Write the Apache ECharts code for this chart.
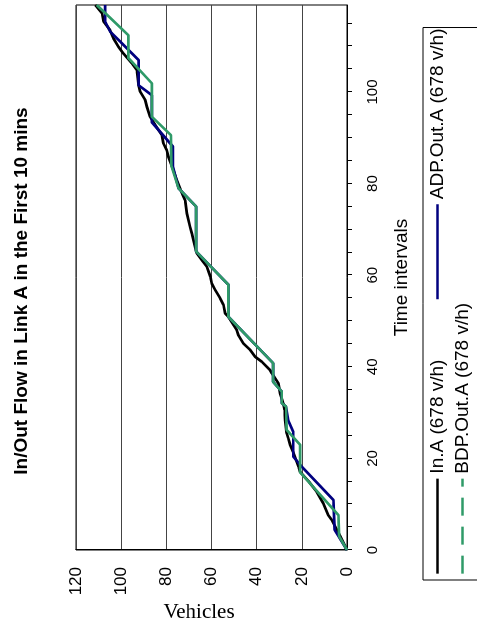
<!DOCTYPE html>
<html>
<head>
<meta charset="utf-8">
<title>In/Out Flow in Link A in the First 10 mins</title>
<script src="https://cdn.jsdelivr.net/npm/echarts@6/dist/echarts.min.js"></script>
<style>
  html, body { margin: 0; padding: 0; background: #fff; overflow: hidden; width: 477px; height: 629px; }
  /* The chart is laid out landscape and turned a quarter turn counter-clockwise onto the portrait page. */
  #chart {
    position: absolute; left: 0; top: 0;
    width: 629px; height: 477px;
    transform-origin: 0 0;
    transform: translate(0, 629px) rotate(-90deg);
  }
</style>
</head>
<body>
<div id="chart"></div>
<script>
// Cumulative vehicle counts against time interval (breakpoints of each curve)
const inTime = [0, 3, 6.6, 7.6, 10.2, 12.7, 15, 17.1, 18.2, 21.2, 23, 24.4, 25.5, 28.4, 30.6, 32, 34.2, 36.4, 38.6, 39.3, 41.1, 42.2, 43.7, 45.1, 46.9, 48, 50.9, 51.7, 53.5, 55, 56.8, 58.2, 59.7, 61.9, 63.3, 64.8, 66.2, 69.1, 70.6, 73.5, 76.4, 77.9, 80.8, 83, 85.9, 87.3, 88.8, 90.6, 92.5, 94.6, 96.8, 98.3, 100.1, 101.5, 104.8, 106.3, 108.4, 109.9, 111.7, 113.5, 115.4, 117.2, 119];
const inVeh  = [0, 3, 6.8, 8.3, 10.5, 13.4, 17, 20.8, 21.5, 23.7, 25.2, 26, 26.7, 27.4, 27.6, 28.2, 29.6, 30.4, 33.3, 34.1, 37.7, 40.7, 42.9, 45.9, 48.1, 48.8, 52.5, 54, 54.7, 56.2, 58.4, 59.9, 60.5, 62.1, 64.3, 66.5, 67.3, 68.7, 69.5, 70.9, 71.7, 73.1, 75.4, 76.9, 79.1, 79.8, 81.3, 82, 84.5, 87.2, 88.6, 89.4, 91.6, 92.3, 93.1, 95.3, 99, 101.2, 103.4, 104.9, 107.8, 108.5, 111.5];

const adpTime = [0, 4.4, 10.9, 18.2, 20.4, 25.8, 28.4, 31.3, 32.1, 34.6, 36.7, 40.8, 50.9, 57.9, 65.2, 75, 79, 83.7, 88.1, 93.4, 99.3, 101.5, 107, 111, 113.2, 115.4, 119];
const adpVeh  = [0, 5.5, 6, 20, 23.8, 23.8, 26.1, 27, 28.9, 28.9, 32.7, 32.7, 52.5, 52.5, 66.8, 66.8, 74.6, 77.1, 77.1, 86.4, 86.4, 92.3, 92.3, 100.4, 104.9, 107.1, 107.1];

const bdpTime = [0, 3, 7.6, 17, 23, 26.2, 31.3, 32.1, 34.6, 36.7, 40.8, 50.9, 57.9, 65.2, 75, 79, 84, 90.6, 94.6, 101.9, 107.4, 112.4, 119];
const bdpVeh  = [0, 3.5, 3.8, 20.8, 20.8, 26.7, 27, 28.9, 28.9, 32.7, 32.7, 52.5, 52.5, 66.8, 66.8, 74.6, 77.8, 78, 86.4, 86.4, 96.8, 96.8, 110.8];

const seriesNames = ['In.A (678 v/h)', 'ADP.Out.A (678 v/h)', 'BDP.Out.A (678 v/h)'];
const titleText = 'In/Out Flow in Link A in the First 10 mins';
const timeAxisName = 'Time intervals';
const vehAxisName = 'Vehicles';

const sans = "'Liberation Sans', Arial, sans-serif";
const serif = "'Liberation Serif', 'Times New Roman', serif";

function pairs(xs, ys) { return xs.map((x, i) => [x, ys[i]]); }

const legendCommon = {
  orient: 'horizontal',
  itemWidth: 95, itemHeight: 14,
  itemStyle: { opacity: 0 },
  lineStyle: { width: 2.7 },
  textStyle: { fontFamily: sans, fontSize: 19, color: '#000' }
};

const chart = echarts.init(document.getElementById('chart'), null, { renderer: 'canvas' });

chart.setOption({
  backgroundColor: '#ffffff',
  animation: false,
  title: {
    text: titleText,
    left: 333, top: 7, textAlign: 'center',
    textStyle: { fontFamily: sans, fontWeight: 'bold', fontSize: 19, color: '#000' }
  },
  legend: [
    Object.assign({}, legendCommon, {
      left: 49, top: 423,
      padding: [5, 1, 44, 5],
      borderColor: '#000', borderWidth: 1, borderRadius: 0,
      itemGap: 59,
      data: [seriesNames[0], seriesNames[1]]
    }),
    Object.assign({}, legendCommon, {
      left: 54, top: 453, padding: 0, itemGap: 10,
      data: [{ name: seriesNames[2], lineStyle: { type: [18, 11], width: 2.7 } }]
    })
  ],
  grid: {
    left: 79, right: 5, top: 76, bottom: 130,
    show: true, borderColor: '#000', borderWidth: 1, backgroundColor: 'transparent'
  },
  graphic: [{
    type: 'text',
    x: 17, y: 199, rotation: -Math.PI / 2,
    style: {
      text: vehAxisName, fontFamily: serif, fontSize: 21, fill: '#000',
      align: 'center', verticalAlign: 'middle'
    }
  }],
  xAxis: {
    type: 'value', min: 0, max: 119, interval: 5,
    name: timeAxisName, nameLocation: 'middle', nameGap: 45,
    nameTextStyle: { fontFamily: sans, fontSize: 19, color: '#000' },
    axisLine: { show: true, onZero: false, lineStyle: { color: '#000', width: 1 } },
    axisTick: { show: true, inside: false, length: 5, lineStyle: { color: '#000', width: 1 } },
    axisLabel: {
      margin: 18, fontFamily: sans, fontSize: 15, color: '#000',
      showMaxLabel: false,
      formatter: v => (v % 20 === 0 ? String(v) : '')
    },
    splitLine: { show: false }
  },
  yAxis: {
    type: 'value', min: 0, max: 120, interval: 20,
    axisLine: { show: true, onZero: false, lineStyle: { color: '#000', width: 1 } },
    axisTick: { show: false },
    axisLabel: { margin: 17, fontFamily: sans, fontSize: 17, color: '#000' },
    splitLine: { show: true, lineStyle: { color: '#444', width: 1 } }
  },
  series: [
    {
      name: seriesNames[0], type: 'line', symbol: 'none', z: 2,
      data: pairs(inTime, inVeh),
      itemStyle: { color: '#000000' },
      lineStyle: { color: '#000000', width: 2.7 }
    },
    {
      name: seriesNames[1], type: 'line', symbol: 'none', z: 3,
      data: pairs(adpTime, adpVeh),
      itemStyle: { color: '#00007f' },
      lineStyle: { color: '#00007f', width: 2.7 }
    },
    {
      name: seriesNames[2], type: 'line', symbol: 'none', z: 4,
      data: pairs(bdpTime, bdpVeh),
      itemStyle: { color: '#2f9a68' },
      lineStyle: { color: '#2f9a68', width: 2.7 }
    }
  ]
});
</script>
</body>
</html>
